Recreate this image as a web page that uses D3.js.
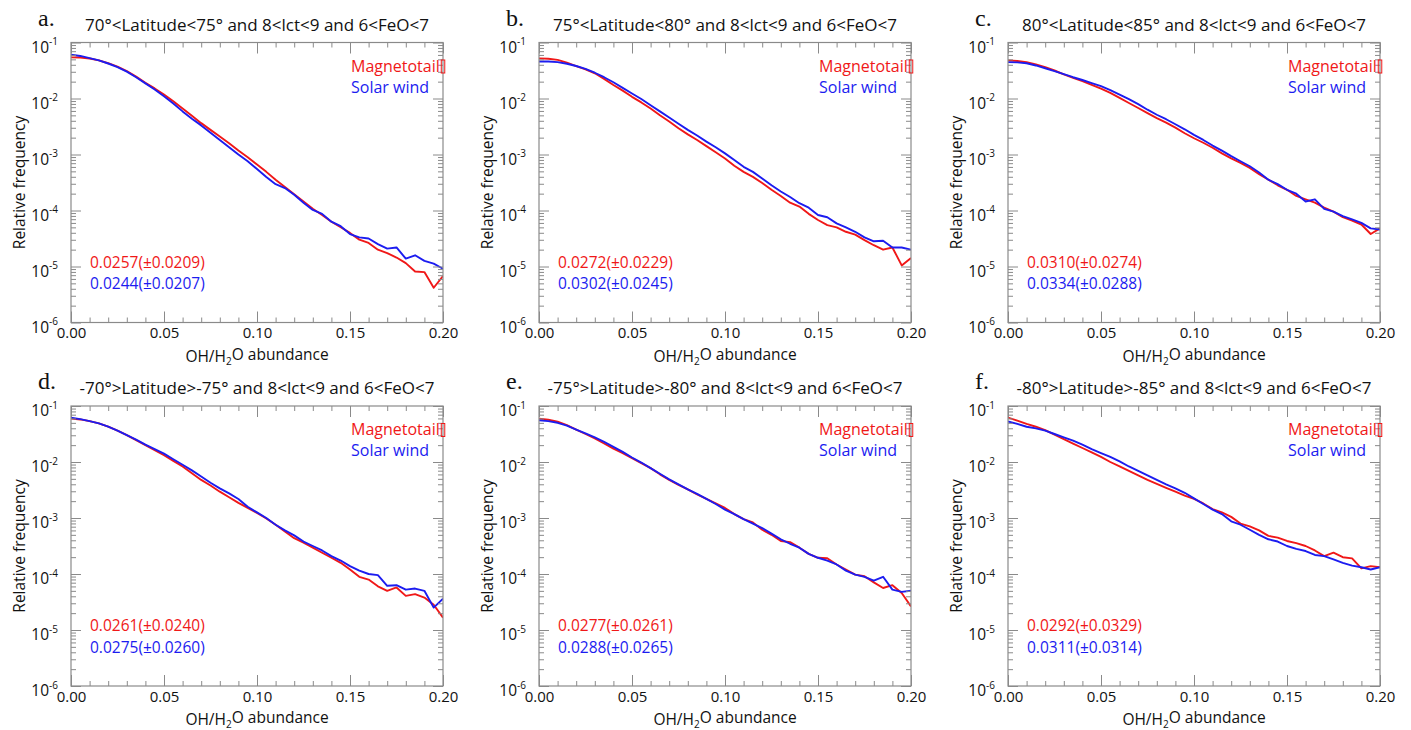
<!DOCTYPE html>
<html>
<head>
<meta charset="utf-8">
<script src="https://cdn.jsdelivr.net/npm/d3@7"></script>
<style>
  html, body { margin: 0; padding: 0; background: #fff; }
  svg { display: block; font-family: "Open Sans", "Noto Sans", sans-serif; }
</style>
</head>
<body>
<svg id="chart" width="1411" height="730"></svg>
<script>
// OH/H2O abundance bins (x)
const abundance = [0, 0.005, 0.01, 0.015, 0.02, 0.025, 0.03, 0.035, 0.04, 0.045,
  0.05, 0.055, 0.06, 0.065, 0.07, 0.075, 0.08, 0.085, 0.09, 0.095,
  0.10, 0.105, 0.11, 0.115, 0.12, 0.125, 0.13, 0.135, 0.14, 0.145,
  0.15, 0.155, 0.16, 0.165, 0.17, 0.175, 0.18, 0.185, 0.19, 0.195, 0.20];

// log10 of relative frequency, per panel and source
const magA = [-1.265,-1.268,-1.285,-1.32,-1.37,-1.43,-1.51,-1.61,-1.72,-1.82,-1.93,-2.05,-2.18,-2.31,-2.44,-2.56,-2.68,-2.80,-2.93,-3.05,-3.18,-3.31,-3.45,-3.58,-3.71,-3.84,-3.97,-4.08,-4.20,-4.30,-4.40,-4.52,-4.58,-4.70,-4.76,-4.84,-4.94,-5.09,-5.10,-5.38,-5.17];
const solA = [-1.217,-1.24,-1.28,-1.32,-1.375,-1.44,-1.52,-1.62,-1.73,-1.84,-1.96,-2.09,-2.23,-2.36,-2.48,-2.61,-2.74,-2.87,-3.00,-3.12,-3.26,-3.40,-3.53,-3.60,-3.72,-3.86,-3.99,-4.06,-4.20,-4.28,-4.42,-4.48,-4.50,-4.60,-4.68,-4.66,-4.86,-4.80,-4.90,-4.95,-5.04];

const magB = [-1.283,-1.29,-1.31,-1.36,-1.42,-1.48,-1.55,-1.65,-1.76,-1.86,-1.97,-2.07,-2.18,-2.30,-2.41,-2.53,-2.64,-2.74,-2.85,-2.96,-3.07,-3.20,-3.31,-3.40,-3.51,-3.63,-3.74,-3.86,-3.93,-4.06,-4.17,-4.26,-4.30,-4.38,-4.43,-4.53,-4.62,-4.70,-4.66,-4.98,-4.85];
const solB = [-1.34,-1.34,-1.35,-1.38,-1.42,-1.47,-1.54,-1.62,-1.71,-1.81,-1.91,-2.01,-2.12,-2.23,-2.34,-2.45,-2.56,-2.66,-2.77,-2.87,-2.98,-3.10,-3.22,-3.31,-3.43,-3.55,-3.66,-3.76,-3.87,-3.95,-4.08,-4.12,-4.23,-4.30,-4.38,-4.48,-4.55,-4.54,-4.66,-4.66,-4.70];

const magC = [-1.32,-1.33,-1.35,-1.39,-1.44,-1.50,-1.57,-1.63,-1.69,-1.755,-1.825,-1.90,-1.99,-2.08,-2.17,-2.26,-2.35,-2.43,-2.52,-2.62,-2.71,-2.79,-2.88,-2.98,-3.07,-3.15,-3.24,-3.35,-3.45,-3.55,-3.63,-3.74,-3.80,-3.86,-3.95,-4.02,-4.12,-4.18,-4.25,-4.42,-4.32];
const solC = [-1.35,-1.355,-1.37,-1.41,-1.46,-1.51,-1.565,-1.62,-1.67,-1.725,-1.78,-1.85,-1.93,-2.01,-2.10,-2.20,-2.29,-2.37,-2.46,-2.55,-2.65,-2.74,-2.84,-2.93,-3.03,-3.12,-3.21,-3.32,-3.45,-3.53,-3.63,-3.70,-3.84,-3.80,-3.97,-4.02,-4.10,-4.16,-4.22,-4.32,-4.34];

const magD = [-1.225,-1.24,-1.27,-1.31,-1.37,-1.44,-1.52,-1.61,-1.70,-1.79,-1.88,-1.98,-2.08,-2.20,-2.32,-2.42,-2.53,-2.63,-2.73,-2.82,-2.91,-3.01,-3.12,-3.24,-3.36,-3.44,-3.53,-3.62,-3.71,-3.80,-3.92,-4.05,-4.10,-4.22,-4.30,-4.24,-4.39,-4.36,-4.42,-4.55,-4.78];
const solD = [-1.21,-1.235,-1.27,-1.31,-1.37,-1.44,-1.52,-1.60,-1.69,-1.77,-1.85,-1.95,-2.05,-2.15,-2.26,-2.37,-2.47,-2.56,-2.66,-2.80,-2.90,-3.00,-3.12,-3.22,-3.31,-3.42,-3.50,-3.58,-3.68,-3.76,-3.86,-3.94,-4.00,-4.02,-4.21,-4.20,-4.28,-4.26,-4.30,-4.60,-4.44];

const magE = [-1.225,-1.245,-1.28,-1.34,-1.42,-1.50,-1.58,-1.67,-1.76,-1.84,-1.93,-2.02,-2.11,-2.22,-2.32,-2.41,-2.49,-2.58,-2.66,-2.74,-2.82,-2.93,-3.02,-3.08,-3.21,-3.30,-3.41,-3.43,-3.53,-3.64,-3.71,-3.72,-3.83,-3.92,-4.01,-4.04,-4.15,-4.25,-4.20,-4.34,-4.58];
const solE = [-1.255,-1.27,-1.30,-1.35,-1.42,-1.49,-1.56,-1.64,-1.73,-1.82,-1.92,-2.01,-2.11,-2.21,-2.31,-2.40,-2.49,-2.57,-2.66,-2.75,-2.85,-2.93,-3.02,-3.10,-3.18,-3.28,-3.38,-3.46,-3.53,-3.64,-3.71,-3.76,-3.83,-3.94,-4.01,-4.05,-4.12,-4.05,-4.28,-4.32,-4.30];

const magF = [-1.206,-1.26,-1.32,-1.37,-1.43,-1.51,-1.59,-1.67,-1.75,-1.83,-1.91,-2.00,-2.08,-2.16,-2.24,-2.32,-2.39,-2.46,-2.53,-2.60,-2.66,-2.74,-2.84,-2.90,-2.98,-3.10,-3.15,-3.22,-3.32,-3.35,-3.41,-3.45,-3.50,-3.58,-3.68,-3.62,-3.70,-3.72,-3.90,-3.86,-3.88];
const solF = [-1.276,-1.32,-1.37,-1.40,-1.44,-1.50,-1.56,-1.62,-1.69,-1.77,-1.84,-1.91,-1.99,-2.08,-2.16,-2.24,-2.32,-2.40,-2.47,-2.55,-2.65,-2.75,-2.85,-2.93,-3.06,-3.12,-3.21,-3.30,-3.38,-3.42,-3.50,-3.55,-3.59,-3.66,-3.68,-3.74,-3.80,-3.85,-3.88,-3.92,-3.88];

const panelLetters = ["a.", "b.", "c.", "d.", "e.", "f."];
const panelTitles = [
  "70°<Latitude<75° and 8<lct<9 and 6<FeO<7",
  "75°<Latitude<80° and 8<lct<9 and 6<FeO<7",
  "80°<Latitude<85° and 8<lct<9 and 6<FeO<7",
  "-70°>Latitude>-75° and 8<lct<9 and 6<FeO<7",
  "-75°>Latitude>-80° and 8<lct<9 and 6<FeO<7",
  "-80°>Latitude>-85° and 8<lct<9 and 6<FeO<7"
];
const magStats = ["0.0257(±0.0209)", "0.0272(±0.0229)", "0.0310(±0.0274)", "0.0261(±0.0240)", "0.0277(±0.0261)", "0.0292(±0.0329)"];
const solStats = ["0.0244(±0.0207)", "0.0302(±0.0245)", "0.0334(±0.0288)", "0.0275(±0.0260)", "0.0288(±0.0265)", "0.0311(±0.0314)"];
const magSeries = [magA, magB, magC, magD, magE, magF];
const solSeries = [solA, solB, solC, solD, solE, solF];

const seriesNames = ["Magnetotail", "Solar wind"];
const xTicks = [0, 0.05, 0.10, 0.15, 0.20];
const yExponents = [-1, -2, -3, -4, -5, -6];

const RED = "#f01818";
const BLUE = "#1c1cf0";
const FRAME = "#8a8a8a";
const SANS = "'Open Sans', 'Noto Sans', sans-serif";
const SERIF = "'Liberation Serif', 'DejaVu Serif', serif";

const svg = d3.select("#chart");
const colLeft = [71, 539, 1008];
const rowTop = [42.5, 406];
const W = 372, H = 280;

const x = d3.scaleLinear().domain([0, 0.2]).range([0, W]);
const y = d3.scaleLog().domain([1e-6, 1e-1]).range([H, 0]);

const minorX = d3.range(0, 21).map(i => i / 100).filter(v => Math.round(v * 100) % 5 !== 0);
const majorY = yExponents.map(e => Math.pow(10, e));
const minorY = [];
for (let e = -6; e < -1; e++) for (let m = 2; m <= 9; m++) minorY.push(m * Math.pow(10, e));

panelTitles.forEach((title, i) => {
  const left = colLeft[i % 3], top = rowTop[Math.floor(i / 3)];
  const g = svg.append("g").attr("transform", `translate(${left},${top})`);

  const clipId = "clip" + i;
  g.append("clipPath").attr("id", clipId)
    .append("rect").attr("width", W).attr("height", H);

  // curves
  const line = d3.line()
    .x((d, k) => x(abundance[k]))
    .y(d => y(Math.pow(10, d)));
  [[magSeries[i], RED], [solSeries[i], BLUE]].forEach(([vals, col]) => {
    g.append("path")
      .datum(vals)
      .attr("clip-path", `url(#${clipId})`)
      .attr("fill", "none")
      .attr("stroke", col)
      .attr("stroke-width", 1.9)
      .attr("stroke-linejoin", "round")
      .attr("d", line);
  });

  // inward ticks on all four sides
  const styleAxis = sel => {
    sel.select(".domain").remove();
    sel.selectAll(".tick line").attr("stroke", FRAME).attr("stroke-width", 1);
  };
  g.append("g").attr("transform", `translate(0,${H})`)
    .call(d3.axisBottom(x).tickValues(xTicks).tickSizeInner(-11).tickPadding(5)
      .tickFormat(d3.format(".2f")))
    .call(styleAxis)
    .call(s => s.selectAll("text").attr("font-size", 15).attr("fill", "#111")
      .style("font-family", SANS));
  g.append("g").attr("transform", `translate(0,${H})`)
    .call(d3.axisBottom(x).tickValues(minorX).tickSizeInner(-5).tickFormat(""))
    .call(styleAxis);
  g.append("g")
    .call(d3.axisTop(x).tickValues(xTicks).tickSizeInner(-11).tickFormat(""))
    .call(styleAxis);
  g.append("g")
    .call(d3.axisTop(x).tickValues(minorX).tickSizeInner(-5).tickFormat(""))
    .call(styleAxis);

  const yAxisMajor = g.append("g")
    .call(d3.axisLeft(y).tickValues(majorY).tickSizeInner(-10).tickPadding(13).tickFormat(""))
    .call(styleAxis);
  yAxisMajor.selectAll(".tick text").each(function (d) {
    const t = d3.select(this)
      .attr("font-size", 15.5).attr("fill", "#111").attr("dy", "0.62em")
      .style("font-family", SANS);
    t.append("tspan").text("10");
    t.append("tspan").attr("font-size", 10).attr("dy", "-0.75em")
      .text(String(Math.round(Math.log10(d))));
  });
  g.append("g")
    .call(d3.axisLeft(y).tickValues(minorY).tickSizeInner(-5).tickFormat(""))
    .call(styleAxis);
  g.append("g").attr("transform", `translate(${W},0)`)
    .call(d3.axisRight(y).tickValues(majorY).tickSizeInner(-10).tickFormat(""))
    .call(styleAxis);
  g.append("g").attr("transform", `translate(${W},0)`)
    .call(d3.axisRight(y).tickValues(minorY).tickSizeInner(-5).tickFormat(""))
    .call(styleAxis);

  // frame
  g.append("rect").attr("width", W).attr("height", H)
    .attr("fill", "none").attr("stroke", FRAME).attr("stroke-width", 1.2);

  // titles
  g.append("text").attr("x", W / 2).attr("y", -12)
    .attr("text-anchor", "middle").attr("font-size", 17).attr("fill", "#111")
    .text(title);
  g.append("text").attr("x", -33).attr("y", -17)
    .style("font-family", SERIF)
    .attr("font-size", 24).attr("fill", "#111")
    .text(panelLetters[i]);

  // axis titles
  const xt = g.append("text").attr("x", W / 2).attr("y", H + 39)
    .attr("text-anchor", "middle").attr("font-size", 15.5).attr("fill", "#111");
  xt.append("tspan").text("OH/H");
  xt.append("tspan").attr("font-size", 10).attr("dy", "0.3em").text("2");
  xt.append("tspan").attr("dy", "-0.3em").text("O abundance");
  g.append("text")
    .attr("transform", `translate(-46,${H / 2}) rotate(-90)`)
    .attr("text-anchor", "middle").attr("font-size", 15.5).attr("fill", "#111")
    .text("Relative frequency");

  // legend
  const legX = W - 92;
  const magLabel = g.append("text").attr("x", legX).attr("y", 29)
    .attr("font-size", 16).attr("fill", RED).text(seriesNames[0]);
  const bb = magLabel.node().getBBox();
  g.append("rect").attr("x", bb.x + bb.width + 1.5).attr("y", 17.5)
    .attr("width", 3.5).attr("height", 13)
    .attr("fill", "none").attr("stroke", RED).attr("stroke-width", 1);
  g.append("text").attr("x", legX).attr("y", 50)
    .attr("font-size", 16).attr("fill", BLUE).text(seriesNames[1]);

  // mean (std) annotations
  g.append("text").attr("x", 19).attr("y", 225)
    .attr("font-size", 15.5).attr("fill", RED).text(magStats[i]);
  g.append("text").attr("x", 19).attr("y", 246.5)
    .attr("font-size", 15.5).attr("fill", BLUE).text(solStats[i]);
});
</script>
</body>
</html>
